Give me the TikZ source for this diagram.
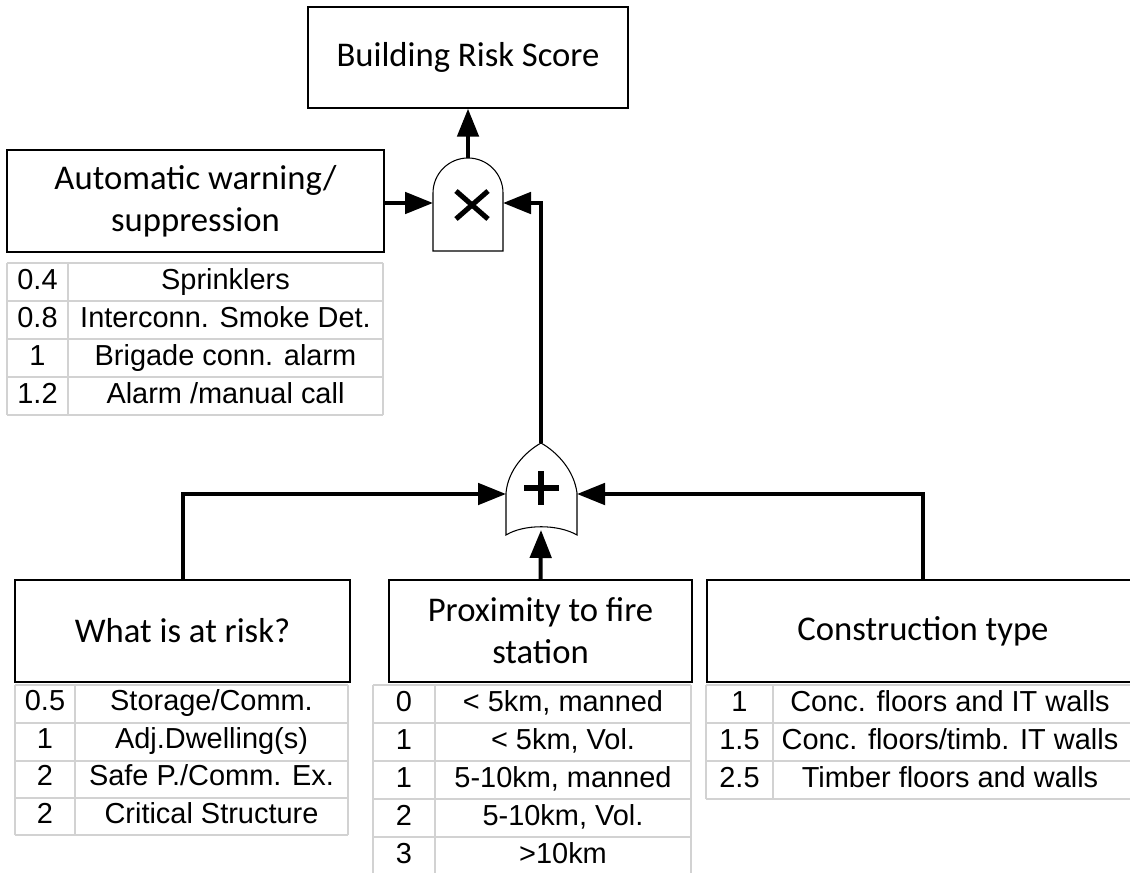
\documentclass[tikz,border=0pt]{standalone}
\usepackage{fontspec}
\setmainfont{Carlito}
\newfontfamily\arialfont{Liberation Sans}
\usetikzlibrary{arrows.meta, positioning, calc}
\definecolor{cGrid}{RGB}{210,210,210}
\tikzset{
	box/.style      ={rectangle, draw=black, line width=1.1pt, align=center, inner sep=0pt, font=\fontsize{26}{31.5}\selectfont},
	cell/.style     ={inner sep=0pt, text height=15.5pt, text depth=4.5pt, font=\arialfont\fontsize{21.7}{24}\selectfont},
	tablegrid/.style={draw=cGrid, line width=1.8pt},
	gate/.style     ={draw=black, line width=0.8pt, fill=white},
	opsign/.style   ={line width=3.8pt},
	wire/.style     ={-{Triangle[length=21pt, width=16pt]}, line width=3pt},
}

\begin{document}
\begin{tikzpicture}[x=0.75pt, y=-0.75pt]
	\useasboundingbox (0,0) rectangle (1130,873);
	% boxes
	\node[box, minimum width=240pt, minimum height=75.75pt] (score) at (468,57.5) {Building Risk Score};
	\node[box, minimum width=282.75pt, minimum height=76.5pt] (warn) at (195.5,201) {Automatic warning/\\ suppression};
	\node[box, minimum width=251.25pt, minimum height=76.5pt] (risk) at (182.5,631) {What is at risk?};
	\node[box, minimum width=227.25pt, minimum height=76.5pt] (prox) at (540.5,631) {Proximity to fire\\ station};
	\node[box, minimum width=324pt, minimum height=76.5pt] (cons) at (923,631) {Construction type};

	% multiply gate
	\draw[gate] (433,251) -- (433,193) arc (180:360:35) -- (503,251) -- cycle;
	\draw[opsign] (456,191) -- (488,219) (456,219) -- (488,191);
	\coordinate (mulOut) at (468,158);
	\coordinate (mulW) at (433,203);
	\coordinate (mulE) at (503,203);

	% sum gate
	\draw[gate] (541,443) .. controls (525,452) and (508,470) .. (506,493) -- (506,535)
		.. controls (524,524) and (558,524) .. (577,535) -- (577,493)
		.. controls (574,470) and (557,452) .. (541,443) -- cycle;
	\draw[opsign] (524,488) -- (559,488) (541,471) -- (541,505);
	\coordinate (sumOut) at (541,443);
	\coordinate (sumW) at (506,494);
	\coordinate (sumE) at (577,494);
	\coordinate (sumS) at (541,530);

	% connectors
	\draw[wire] (mulOut) -- (score.south);
	\draw[wire] (warn.east |- mulW) -- (mulW);
	\draw[wire] (sumOut) |- (mulE);
	\draw[wire] (risk.north) |- (sumW);
	\draw[wire] (cons.north) |- (sumE);
	\draw[wire] (prox.north) -- (sumS);

	% table: warning
	\foreach \y in {263,301,339,377,415} \draw[tablegrid] (7,\y) -- (383,\y);
	\foreach \x in {7,68,383} \draw[tablegrid] (\x,263) -- (\x,415);
	\foreach \v/\t [count=\i] in {0.4/Sprinklers, 0.8/Interconn. Smoke Det., 1/Brigade conn. alarm, 1.2/{Alarm /manual call}} {
		\node[cell] (warnv\i) at (37.5,{244+38*\i}) {\v};
		\node[cell] (warnt\i) at (225.5,{244+38*\i}) {\t};
	}

	% table: risk
	\foreach \y in {685,723,761,798,835} \draw[tablegrid] (15,\y) -- (348,\y);
	\foreach \x in {15,75,348} \draw[tablegrid] (\x,685) -- (\x,835);
	\foreach \v/\t [count=\i] in {0.5/{Storage/Comm.}, 1/Adj.Dwelling(s), 2/{Safe P./Comm. Ex.}, 2/Critical Structure} {
		\node[cell] (riskv\i) at (45,{666+37.5*\i}) {\v};
		\node[cell] (riskt\i) at (211.5,{666+37.5*\i}) {\t};
	}

	% table: proximity
	\foreach \y in {685,723,761,799,837,875} \draw[tablegrid] (373,\y) -- (691,\y);
	\foreach \x in {373,435,691} \draw[tablegrid] (\x,685) -- (\x,875);
	\foreach \v/\t [count=\i] in {0/{< 5km, manned}, 1/{< 5km, Vol.}, 1/{5-10km, manned}, 2/{5-10km, Vol.}, 3/>10km} {
		\node[cell] (proxv\i) at (404,{666+38*\i}) {\v};
		\node[cell] (proxt\i) at (563,{666+38*\i}) {\t};
	}

	% table: construction
	\foreach \y in {685,723,761,799} \draw[tablegrid] (706,\y) -- (1136,\y);
	\foreach \x in {706,773} \draw[tablegrid] (\x,685) -- (\x,799);
	\foreach \v/\t [count=\i] in {1/Conc. floors and IT walls, 1.5/{Conc. floors/timb. IT walls}, 2.5/Timber floors and walls} {
		\node[cell] (consv\i) at (739.5,{666+38*\i}) {\v};
		\node[cell] (const\i) at (950,{666+38*\i}) {\t};
	}
\end{tikzpicture}
\end{document}
